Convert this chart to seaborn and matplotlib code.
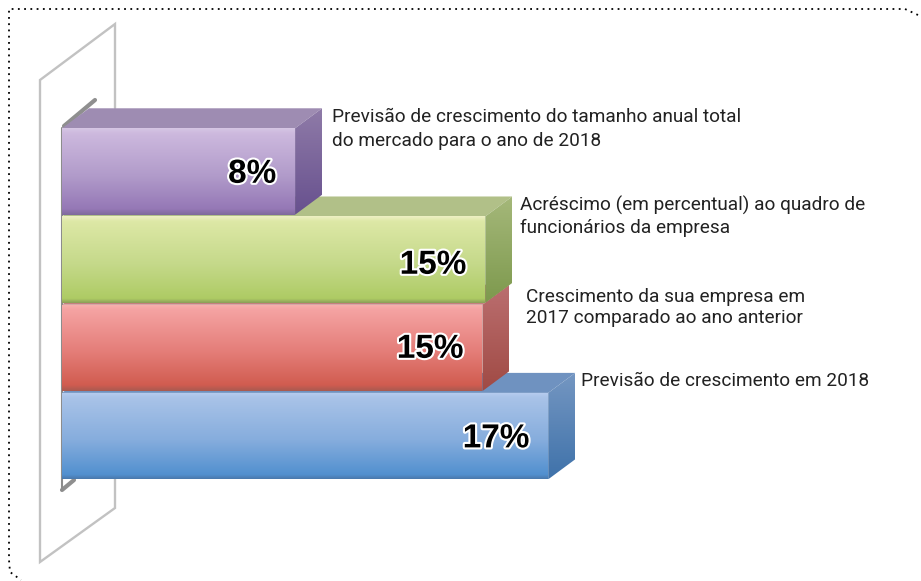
import numpy as np
import pandas as pd
import seaborn as sns
import matplotlib.pyplot as plt
import matplotlib.patheffects as pe
import matplotlib.transforms as mtrans
from matplotlib.colors import LinearSegmentedColormap
from matplotlib.patches import Polygon

# top to bottom, same order as the chart
names = [
    'Previsão de crescimento do tamanho anual total\ndo mercado para o ano de 2018',
    'Acréscimo (em percentual) ao quadro de\nfuncionários da empresa',
    'Crescimento da sua empresa em\n2017 comparado ao ano anterior',
    'Previsão de crescimento em 2018',
]
labels = ['8%', '15%', '15%', '17%']
# drawn length of each bar
lengths = [8.15, 14.8, 14.7, 17.0]

base_colors = ['#a78fc4', '#c4d98a', '#e88078', '#7ba6dc']
front_stops = [
    [(0, '#d6c6e4'), (.06, '#cdb9de'), (.55, '#b19bca'), (.93, '#9578b6'), (1, '#7f6a9c')],
    [(0, '#eef0c4'), (.06, '#dde8a6'), (.55, '#c5d98a'), (.95, '#aecb64'), (1, '#8b9f58')],
    [(0, '#f7b3ae'), (.06, '#f5a3a3'), (.55, '#e47d78'), (.93, '#d15c50'), (1, '#a85a50')],
    [(0, '#b8cdf0'), (.06, '#a9c3e8'), (.55, '#86addd'), (.95, '#5290cf'), (1, '#4a78ac')],
]
top_colors = ['#9e8cb2', '#b1c088', '#c27f7e', '#6f92c0']
side_stops = [
    [(0, '#8f7ba8'), (1, '#67508e')],
    [(0, '#a5b87a'), (1, '#7d994d')],
    [(0, '#bb6f70'), (1, '#a04a44')],
    [(0, '#7597c2'), (1, '#3f72aa')],
]

W, H = 921, 581
X0, PX_X = 62, 28.6    # pixel of value 0, pixels per percent
Y0, PX_Y = 171.5, 88.2  # pixel of first row, pixels per row
DX, DY = 27 / PX_X, 20 / PX_Y  # depth of the 3d block

sns.set_theme(style='white')
plt.rcParams['font.family'] = ['Roboto', 'DejaVu Sans']

fig = plt.figure(figsize=(W / 100, H / 100), dpi=100)
ax = fig.add_axes([0, 0, 1, 1])
px = mtrans.Affine2D().scale(1 / W, -1 / H).translate(0, 1) + fig.transFigure

df = pd.DataFrame({'name': names, 'length': lengths})
sns.barplot(data=df, x='length', y='name', hue='name', palette=base_colors,
            order=names, hue_order=names, width=.98, legend=False, ax=ax)

ramp = np.linspace(0, 1, 256).reshape(-1, 1)


def shade(verts, stops, z):
    poly = Polygon(verts, closed=True, fc='none', ec='none')
    ax.add_patch(poly)
    xs, ys = zip(*verts)
    cm = LinearSegmentedColormap.from_list('g', stops)
    im = ax.imshow(ramp, extent=(min(xs), max(xs), max(ys), min(ys)), aspect='auto',
                   cmap=cm, vmin=0, vmax=1, zorder=z, interpolation='bilinear')
    im.set_clip_path(poly)


# blue first, purple last, each block covers the top of the one below it
for i in range(len(names)):
    bar = ax.containers[i][0]
    x, y, w, h = bar.get_x(), bar.get_y(), bar.get_width(), bar.get_height()
    z = 10 + (len(names) - i) * 3
    bar.set_edgecolor('none')
    bar.set_zorder(z)
    top = Polygon([(x, y), (x + w, y), (x + w + DX, y - DY), (x + DX, y - DY)],
                  closed=True, fc=top_colors[i], ec='none', zorder=z)
    ax.add_patch(top)
    shade([(x + w, y), (x + w + DX, y - DY), (x + w + DX, y + h - DY), (x + w, y + h)],
          side_stops[i], z + 1)
    shade([(x, y), (x + w, y), (x + w, y + h), (x, y + h)], front_stops[i], z + 2)

    ax.annotate(labels[i], (x + w, y + h / 2), xytext=(-13.5, [-2, -4, -1, -2][i]),
                textcoords='offset points', ha='right', va='center', fontsize=24,
                fontweight='bold', family=['Liberation Sans', 'DejaVu Sans'],
                color='black', zorder=40,
                path_effects=[pe.withStroke(linewidth=3, foreground='white')])

ax.set_xlim(-X0 / PX_X, (W - X0) / PX_X)
ax.set_ylim((H - Y0) / PX_Y, -Y0 / PX_Y)
ax.set_axis_off()

# wall behind the bars
wall = dict(color='#c2c2c2', lw=1.7, transform=px, solid_joinstyle='miter', zorder=2)
ax.plot([115, 115, 40, 40, 115, 115], [108, 24, 80, 562, 508, 478], **wall)
ax.plot([64, 95], [126, 100], color='#8f8f8f', lw=3, transform=px, zorder=3)
ax.plot([62, 74], [490, 480], color='#8f8f8f', lw=3, transform=px, zorder=3)
ax.plot([62, 62], [128, 490], color='#8c8c8c', lw=1.5, transform=px, zorder=3)

# dotted frame
ax.plot([918, 905, 9, 9, 10, 21], [15, 9, 9, 560, 572, 580], color='black', lw=1.3,
        linestyle=(0, (1, 2.46)), transform=px, zorder=1)

text_pos = [(332, 116.5), (520, 204.5), (526, 297.5), (581, 381)]
line_gap = [1.47, 1.3, 1.22, 1.2]
for name, (tx, ty), gap in zip(names, text_pos, line_gap):
    ax.text(tx, ty - 9, name, transform=px, ha='left', va='top', fontsize=13.7,
            color='#222222', linespacing=gap * 0.98, zorder=40)

fig.savefig('out.png', dpi=100)
